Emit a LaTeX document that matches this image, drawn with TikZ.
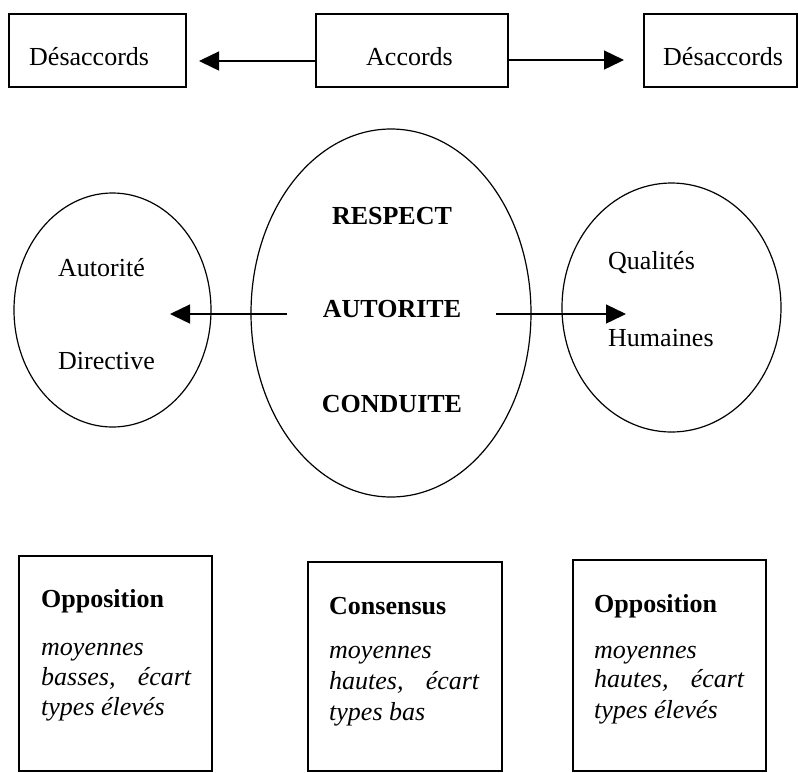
\documentclass[tikz,border=0pt]{standalone}
\usepackage{fontspec}
\setmainfont{Liberation Serif}
\usetikzlibrary{shapes.geometric,arrows.meta}
\begin{document}
\begin{tikzpicture}[x=1pt,y=-1pt,
  box/.style={draw,line width=1.2pt,inner sep=0pt},
  oval/.style={draw,ellipse,line width=1.2pt,inner sep=0pt},
  txt/.style={inner sep=0pt,anchor=base west,font=\fontsize{26}{30}\selectfont},
  btxt/.style={txt,font=\fontsize{26}{30}\selectfont\bfseries},
  itxt/.style={txt,font=\fontsize{26}{30}\selectfont\itshape},
  arr/.style={line width=1.4pt,-{Triangle[length=20pt,width=19pt]}}]
\useasboundingbox (0,0) rectangle (798,772);
% top row
\node[box,minimum width=177pt,minimum height=73pt] (dl) at (97.5,50.5) {};
\node[box,minimum width=192pt,minimum height=73pt] (ac) at (412,50.5) {};
\node[box,minimum width=153pt,minimum height=73pt] (dr) at (720.5,50.5) {};
\node[txt] (tdl) at (29,65) {Désaccords};
\node[txt] (tac) at (366,65) {Accords};
\node[txt] (tdr) at (663,65) {Désaccords};
\coordinate (tipL) at (199,61);
\coordinate (tipR) at (624,60);
\draw[arr] (ac.west |- tipL) -- (tipL);
\draw[arr] (ac.east |- tipR) -- (tipR);
% ellipses
\node[oval,minimum width=197pt,minimum height=234pt] (el) at (112.5,310) {};
\node[oval,minimum width=280pt,minimum height=368pt] (ec) at (391,313) {};
\node[oval,minimum width=219pt,minimum height=249pt] (er) at (671.5,307.5) {};
\node[txt] (aut) at (58,276) {Autorité};
\node[txt] (dir) at (58,369) {Directive};
\node[txt] (qua) at (608,269) {Qualités};
\node[txt] (hum) at (608,346) {Humaines};
\node[btxt,anchor=base] (resp) at (392,224) {RESPECT};
\node[btxt,anchor=base] (auto) at (392,317) {AUTORITE};
\node[btxt,anchor=base] (cond) at (392,412) {CONDUITE};
\coordinate (ls) at (287,314);
\coordinate (lt) at (170,314);
\coordinate (rs) at (496,314);
\coordinate (rt) at (626,314);
\draw[arr] (ls) -- (lt);
\draw[arr] (rs) -- (rt);
% bottom boxes
\node[box,minimum width=193pt,minimum height=215pt] (b1) at (115.5,663.5) {};
\node[box,minimum width=194pt,minimum height=209pt] (b2) at (405,666.5) {};
\node[box,minimum width=193pt,minimum height=211pt] (b3) at (669.5,665.5) {};
\node[btxt] (h1) at (41,607) {Opposition};
\node[itxt] (l11) at (41,655) {moyennes};
\node[itxt] (l12) at (41,685) {\makebox[150pt][l]{basses,\hfill écart}};
\node[itxt] (l13) at (41,715) {types élevés};
\node[btxt] (h2) at (329,614) {Consensus};
\node[itxt] (l21) at (329,658) {moyennes};
\node[itxt] (l22) at (329,689) {\makebox[150pt][l]{hautes,\hfill écart}};
\node[itxt] (l23) at (329,720) {types bas};
\node[btxt] (h3) at (594,612) {Opposition};
\node[itxt] (l31) at (594,658) {moyennes};
\node[itxt] (l32) at (594,687) {\makebox[150pt][l]{hautes,\hfill écart}};
\node[itxt] (l33) at (594,718) {types élevés};
\end{tikzpicture}
\end{document}
